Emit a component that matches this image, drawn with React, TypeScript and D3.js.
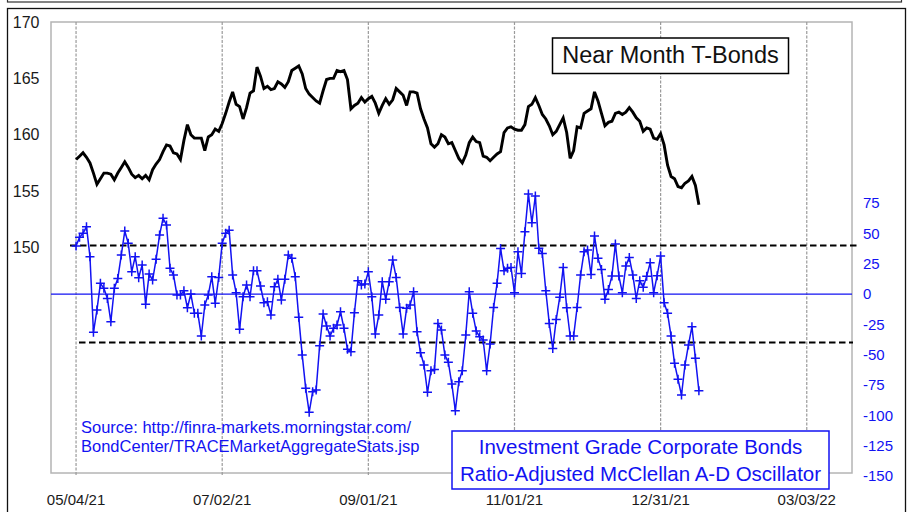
import React from "react";
import * as d3 from "d3";

// Trading-day index 0 = 05/04/21, one value per trading day
const tBonds: number[] = [
  157.8, 158.1, 158.4, 158.0, 157.5, 156.6, 155.6, 156.1, 156.6, 156.6,
  156.5, 156.0, 156.6, 157.1, 157.6, 157.1, 156.5, 156.2, 156.4, 156.1,
  156.4, 156.0, 156.9, 157.4, 157.8, 158.5, 159.1, 159.0, 158.4, 158.3,
  157.8, 159.5, 160.9, 160.0, 159.7, 159.7, 159.7, 158.6, 159.8, 160.0,
  160.5, 160.3, 161.0, 161.9, 162.9, 163.8, 162.7, 162.5, 161.4, 162.4,
  163.7, 163.9, 166.0, 165.2, 164.1, 164.3, 164.0, 164.1, 164.7, 164.5,
  164.2, 164.7, 165.7, 165.9, 166.1, 165.4, 164.1, 163.6, 163.3, 163.0,
  162.8, 163.9, 164.9, 165.0, 165.0, 165.7, 165.6, 165.7, 164.9, 162.3,
  162.6, 162.8, 163.3, 162.9, 163.2, 163.4, 162.8, 161.9, 162.6, 163.2,
  162.7, 163.1, 164.1, 163.8, 163.5, 162.6, 163.8, 163.8, 163.7, 162.3,
  161.4, 160.6, 159.2, 158.9, 159.2, 160.0, 159.8, 159.2, 159.3, 158.6,
  157.9, 157.5, 158.2, 159.3, 159.8, 159.4, 159.3, 158.1, 158.0, 157.7,
  158.0, 158.3, 158.5, 160.2, 160.6, 160.7, 160.5, 160.4, 160.4, 160.9,
  162.5, 162.7, 163.3, 162.6, 161.8, 161.4, 160.8, 160.0, 160.3, 160.9,
  161.5, 160.2, 157.9, 158.6, 160.7, 160.6, 161.9, 162.1, 162.3, 163.8,
  163.0, 161.9, 160.8, 161.1, 161.2, 161.9, 162.0, 161.8, 162.0, 162.4,
  162.0, 161.5, 161.2, 160.3, 160.6, 160.5, 159.7, 159.6, 160.1, 159.1,
  157.3, 156.3, 156.1, 155.4, 155.3, 155.7, 155.9, 156.3, 155.5, 153.8,
];

const oscillator: number[] = [
  39.6, 46.7, 50, 55.5, 30.7, -31.6, -13.2, 8.8, 4.7, -3.6,
  -22.8, 4.7, 12.9, 32.1, 51.9, 41.8, 18.4, 30.8, 13.5, 23.9,
  -8.5, 16.5, 11.5, 28.6, 48.6, 62.4, 56.9, 21.2, 15.7, -0.8,
  -0.8, 2.7, -11.3, 0, -15.9, -15.9, -34.6, -9.1, -0.8, 14.3,
  -7.7, 13.7, 41.8, 50, 52.5, 15.7, 1.1, -29.1, -2.2, 7.4,
  -2.2, 19.2, 19.2, 6.6, -7.1, -6.3, -17.3, 6.0, 12.1, -4.9,
  12.1, 32.1, 29.4, 14.3, -19.2, -50.3, -77.7, -97.5, -80.5, -79.1,
  -42.6, -16.5, -26.4, -34.6, -28.3, -25.5, -14.6, -28.3, -45.6, -47.5,
  -15.4, 11.0, 7.4, 8.2, 18.4, -2.2, -33, -17.3, 10.2, -4.4,
  10.2, 28, 13.7, -11, -33, -11.8, -9.1, 1.9, -31, -48.4,
  -58.5, -81, -63.2, -62.1, -24.2, -29.7, -50.3, -56.3, -74.2, -96.2,
  -72.3, -63.2, -33.8, 1.9, -15.9, -30.5, -35.2, -37.9, -63.2, -41.2,
  -11, 8.8, 37.6, 19.2, 21.2, 21.9, 1.1, 34.9, 17, 51.4,
  82.4, 58.8, 80.8, 37.7, 33.5, 2.7, -24.2, -44.8, -20.9, -2.7,
  21.9, -11.3, -34.6, -34.6, -11, 15.7, 34.9, 36.3, 16, 47.8,
  29.4, 20.3, -4.4, 3.8, 14.8, 41.2, 14.8, 1.1, 23.1, 30.2,
  15.7, -3.6, 11, 5.5, 14.6, 25.8, 1.1, 15.1, 31.3, -7.1,
  -15.9, -34.6, -57.1, -70.3, -83.2, -58.5, -42, -26.9, -53.0, -79.7,
];

const xTickDays: number[] = [0, 42, 84, 126, 168, 210];
const xTickLabels: string[] = ["05/04/21", "07/02/21", "09/01/21", "11/01/21", "12/31/21", "03/03/22"];
const leftTicks: number[] = [150, 155, 160, 165, 170];
const rightTicks: number[] = [75, 50, 25, 0, -25, -50, -75, -100, -125, -150];
const bandLevels: number[] = [40, -40];

const sourceLines: string[] = [
  "Source: http://finra-markets.morningstar.com/",
  "BondCenter/TRACEMarketAggregateStats.jsp",
];
const legendLines: string[] = [
  "Investment Grade Corporate Bonds",
  "Ratio-Adjusted McClellan A-D Oscillator",
];
const titleText = "Near Month T-Bonds";

const FONT = "'Liberation Sans', Arial, Helvetica, sans-serif";
const BLUE = "#1212f2";

export default function App() {
  const W = 907;
  const H = 512;
  const plot = { left: 51, top: 22, right: 852, bottom: 473 };

  const x = d3.scaleLinear().domain([-7.2, 223]).range([plot.left, plot.right]);
  const yL = d3.scaleLinear().domain([130, 170]).range([plot.bottom, plot.top]);
  const yR = d3.scaleLinear().domain([-147.5, 224.2]).range([plot.bottom, plot.top]);

  const bondLine = d3
    .line<number>()
    .x((_, i) => x(i))
    .y((d) => yL(d))(tBonds) as string;
  const oscLine = d3
    .line<number>()
    .x((_, i) => x(i))
    .y((d) => yR(d))(oscillator) as string;

  const m = 4.5;
  const markers = oscillator
    .map((d, i) => {
      const cx = x(i);
      const cy = yR(d);
      return `M${cx - m},${cy}H${cx + m}M${cx},${cy - m}V${cy + m}`;
    })
    .join("");

  return (
    <div style={{ position: "absolute", left: 0, top: 0, width: W, height: H, background: "#fff" }}>
      <svg width={W} height={H} style={{ display: "block", fontFamily: FONT }}>
        <rect x={0} y={0} width={W} height={H} fill="#fff" />
        {/* top box remnant */}
        <rect x={7.5} y={-12} width={894} height={14} fill="#fff" stroke="#333" strokeWidth={1.2} />
        {/* outer frame */}
        <rect x={7.5} y={8.5} width={898} height={520} fill="#fff" stroke="#111" strokeWidth={1.3} />

        {/* plot border */}
        <rect
          x={plot.left}
          y={plot.top}
          width={plot.right - plot.left}
          height={plot.bottom - plot.top}
          fill="none"
          stroke="#b4b4b4"
          strokeWidth={1.5}
        />

        {/* vertical grid */}
        {xTickDays.map((d) => (
          <line
            key={"g" + d}
            x1={x(d)}
            x2={x(d)}
            y1={plot.top}
            y2={plot.bottom + 2}
            stroke="#9a9a9a"
            strokeWidth={1.2}
            strokeDasharray="3,1.5"
          />
        ))}

        {/* x labels */}
        {xTickDays.map((d, i) => (
          <text key={"xl" + d} x={x(d)} y={505} textAnchor="middle" fontSize={15} fill="#1a1a1a">
            {xTickLabels[i]}
          </text>
        ))}

        {/* left labels */}
        {leftTicks.map((t) => (
          <text key={"l" + t} x={39.5} y={yL(t)} dy="0.35em" textAnchor="end" fontSize={16} fill="#1a1a1a">
            {t}
          </text>
        ))}

        {/* right labels */}
        {rightTicks.map((t) => (
          <text key={"r" + t} x={863} y={yR(t)} dy="0.35em" textAnchor="start" fontSize={15} fill={BLUE}>
            {t}
          </text>
        ))}

        {/* zero line */}
        <line x1={plot.left} x2={plot.right} y1={yR(0)} y2={yR(0)} stroke={BLUE} strokeWidth={1.3} />

        {/* band lines */}
        {bandLevels.map((b, i) => (
          <line
            key={"b" + b}
            x1={i === 0 ? 70 : 79}
            x2={i === 0 ? 858 : 853}
            y1={yR(b)}
            y2={yR(b)}
            stroke="#000"
            strokeWidth={2}
            strokeDasharray="6.5,3.5"
          />
        ))}

        {/* T-bond line */}
        <path d={bondLine} fill="none" stroke="#000" strokeWidth={2.9} strokeLinejoin="miter" strokeMiterlimit={3} />

        {/* oscillator */}
        <path d={oscLine} fill="none" stroke={BLUE} strokeWidth={1.5} strokeLinejoin="round" />
        <path d={markers} fill="none" stroke={BLUE} strokeWidth={1.5} />

        {/* title box */}
        <rect x={552.5} y={38} width={236} height={35.5} fill="#fff" stroke="#000" strokeWidth={1.5} />
        <text x={670.5} y={62.5} textAnchor="middle" fontSize={23.5} fill="#111">
          {titleText}
        </text>

        {/* source text */}
        {sourceLines.map((s, i) => (
          <text key={"s" + i} x={81} y={432.5 + i * 19} fontSize={16.5} fill={BLUE}>
            {s}
          </text>
        ))}

        {/* legend box */}
        <rect x={452} y={431} width={377} height={58} fill="#fff" stroke={BLUE} strokeWidth={1.5} />
        {legendLines.map((s, i) => (
          <text key={"lg" + i} x={640.5} y={454 + i * 26.5} textAnchor="middle" fontSize={20.5} fill={BLUE}>
            {s}
          </text>
        ))}
      </svg>
    </div>
  );
}
